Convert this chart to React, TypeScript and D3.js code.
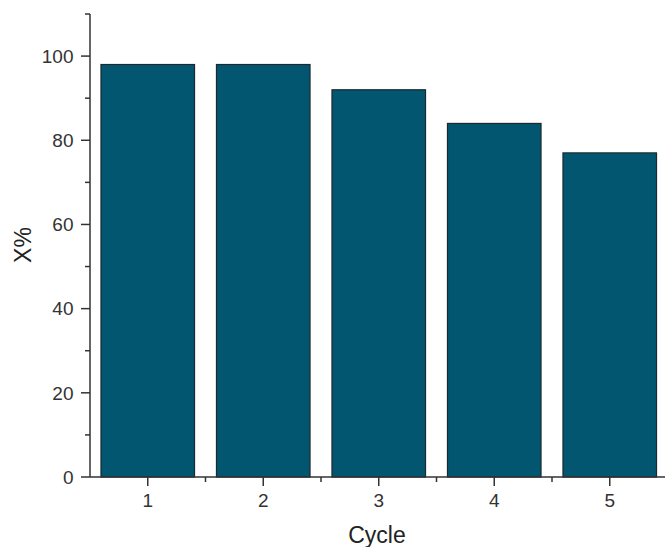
import React from "react";
import * as d3 from "d3";

const categories = [1, 2, 3, 4, 5];
const values = [98, 98, 92, 84, 77];
const yTicks = [0, 20, 40, 60, 80, 100];
const yMinorTicks = [10, 30, 50, 70, 90, 110];
const xMinorTicks = [1.5, 2.5, 3.5, 4.5];
const xTitle = "Cycle";
const yTitle = "X%";

export default function App() {
  const W = 665, H = 547;
  const x = d3.scaleLinear().domain([0.5, 5.5]).range([90, 667.5]);
  const y = d3.scaleLinear().domain([0, 110]).range([477, 14]);
  const barW = (x(1) - x(0.5)) * 2 * 0.81;
  const axisColor = "#333";
  const font = "Liberation Sans, Arial, sans-serif";
  return (
    <svg width={W} height={H} style={{ position: "absolute", left: 0, top: 0 }}>
      <rect width={W} height={H} fill="#fff" />
      {categories.map((c, i) => (
        <rect
          key={c}
          x={x(c) - barW / 2}
          y={y(values[i])}
          width={barW}
          height={y(0) - y(values[i])}
          fill="#02566F"
          stroke="#1a2a30"
          strokeWidth={1.2}
        />
      ))}
      {/* y axis */}
      <line x1={x(0.5)} x2={x(0.5)} y1={y(110)} y2={y(0)} stroke={axisColor} strokeWidth={1.5} />
      {yTicks.map((t) => (
        <g key={t}>
          <line x1={x(0.5) - 9} x2={x(0.5)} y1={y(t)} y2={y(t)} stroke={axisColor} strokeWidth={1.5} />
          <text x={x(0.5) - 16.5} y={y(t)} dy="0.36em" textAnchor="end" fontSize={19} fontFamily={font} fill="#333">
            {t}
          </text>
        </g>
      ))}
      {yMinorTicks.map((t) => (
        <line key={t} x1={x(0.5) - 5} x2={x(0.5)} y1={y(t)} y2={y(t)} stroke={axisColor} strokeWidth={1.5} />
      ))}
      {/* x axis */}
      <line x1={x(0.5)} x2={x(5.5)} y1={y(0)} y2={y(0)} stroke={axisColor} strokeWidth={1.5} />
      {categories.map((c) => (
        <g key={c}>
          <line x1={x(c)} x2={x(c)} y1={y(0)} y2={y(0) + 9} stroke={axisColor} strokeWidth={1.5} />
          <text x={x(c)} y={y(0) + 30} textAnchor="middle" fontSize={19} fontFamily={font} fill="#333">
            {c}
          </text>
        </g>
      ))}
      {xMinorTicks.map((t) => (
        <line key={t} x1={x(t)} x2={x(t)} y1={y(0)} y2={y(0) + 5} stroke={axisColor} strokeWidth={1.5} />
      ))}
      <text x={377} y={543} textAnchor="middle" fontSize={23} fontFamily={font} fill="#222">
        {xTitle}
      </text>
      <text
        transform={`translate(31, 245) rotate(-90)`}
        textAnchor="middle"
        fontSize={23}
        fontFamily={font}
        fill="#222"
      >
        {yTitle}
      </text>
    </svg>
  );
}
